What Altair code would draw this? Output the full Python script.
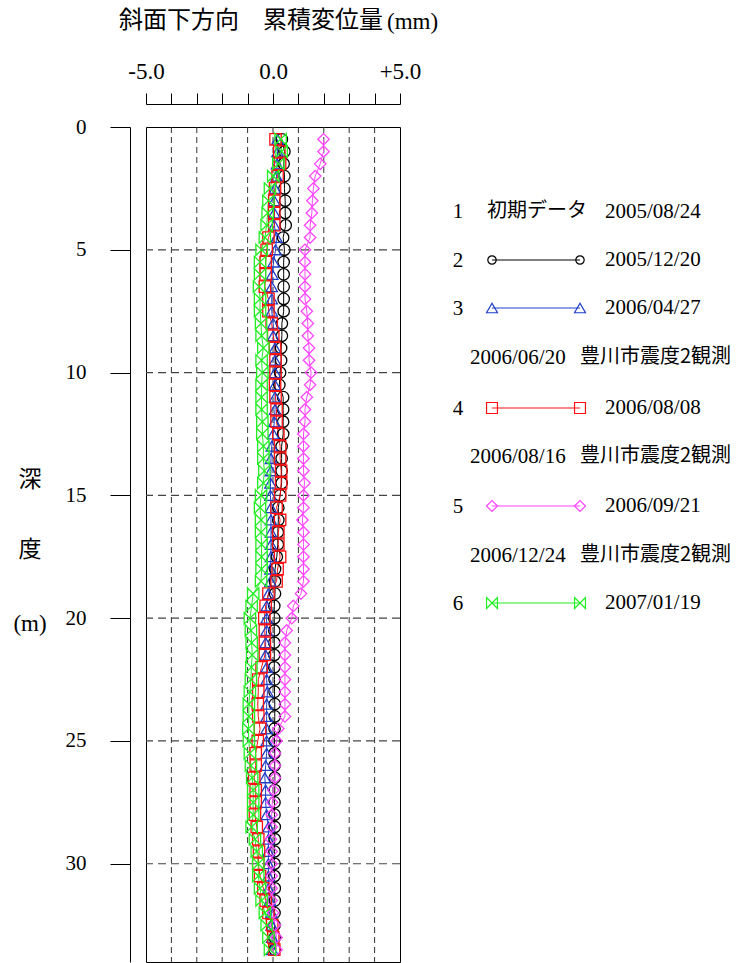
import altair as alt
import pandas as pd

# ---------------- data ----------------
depth_m = [0.5, 1.0, 1.5, 2.0, 2.5, 3.0, 3.5, 4.0, 4.5, 5.0,
           5.5, 6.0, 6.5, 7.0, 7.5, 8.0, 8.5, 9.0, 9.5, 10.0,
           10.5, 11.0, 11.5, 12.0, 12.5, 13.0, 13.5, 14.0, 14.5, 15.0,
           15.5, 16.0, 16.5, 17.0, 17.5, 18.0, 18.5, 19.0, 19.5, 20.0,
           20.5, 21.0, 21.5, 22.0, 22.5, 23.0, 23.5, 24.0, 24.5, 25.0,
           25.5, 26.0, 26.5, 27.0, 27.5, 28.0, 28.5, 29.0, 29.5, 30.0,
           30.5, 31.0, 31.5, 32.0, 32.5, 33.0, 33.5]

disp_2 = [0.35, 0.45, 0.42, 0.45, 0.45, 0.48, 0.48, 0.50, 0.40, 0.45,
          0.42, 0.42, 0.42, 0.42, 0.42, 0.35, 0.35, 0.32, 0.32, 0.28,
          0.25, 0.40, 0.40, 0.40, 0.40, 0.34, 0.34, 0.34, 0.34, 0.28,
          0.21, 0.21, 0.19, 0.19, 0.15, 0.08, 0.08, 0.08, 0.05, 0.05,
          0.05, 0.05, 0.05, 0.05, 0.06, 0.06, 0.07, 0.07, 0.06, 0.06,
          0.06, 0.06, 0.07, 0.07, 0.06, 0.06, 0.07, 0.07, 0.06, 0.06,
          0.06, 0.07, 0.07, 0.06, 0.06, 0.07, 0.07]

disp_3 = [0.18, 0.18, 0.16, 0.14, 0.08, 0.05, 0.05, 0.05, 0.14, 0.10,
          0.02, -0.03, -0.05, -0.05, -0.05, 0.01, 0.01, 0.08, 0.08, 0.08,
          0.08, 0.08, 0.08, 0.05, 0.01, -0.05, -0.08, -0.08, -0.10, -0.10,
          -0.08, -0.08, -0.08, -0.08, -0.08, -0.10, -0.10, -0.18, -0.25, -0.25,
          -0.25, -0.29, -0.29, -0.25, -0.25, -0.22, -0.25, -0.25, -0.25, -0.25,
          -0.25, -0.29, -0.32, -0.29, -0.29, -0.25, -0.18, -0.18, -0.18, -0.18,
          -0.18, -0.18, -0.12, -0.05, -0.05, -0.03, -0.03]

disp_4 = [0.10, 0.25, 0.28, 0.18, 0.08, 0.05, 0.05, 0.05, -0.18, -0.25,
          -0.29, -0.29, -0.32, -0.18, -0.18, -0.05, 0.01, 0.08, 0.10, 0.10,
          0.08, 0.10, 0.14, 0.14, 0.21, 0.28, 0.28, 0.32, 0.32, 0.28,
          0.14, 0.28, 0.21, 0.21, 0.28, 0.18, 0.14, -0.18, -0.29, -0.34,
          -0.32, -0.32, -0.32, -0.45, -0.58, -0.58, -0.60, -0.58, -0.51, -0.60,
          -0.68, -0.68, -0.74, -0.68, -0.68, -0.71, -0.64, -0.58, -0.55, -0.58,
          -0.51, -0.38, -0.29, -0.18, -0.03, 0.01, 0.05]

disp_5 = [1.99, 1.99, 1.86, 1.66, 1.59, 1.55, 1.53, 1.46, 1.46, 1.26,
          1.26, 1.26, 1.26, 1.26, 1.33, 1.37, 1.37, 1.42, 1.42, 1.50,
          1.46, 1.33, 1.26, 1.26, 1.20, 1.20, 1.20, 1.20, 1.24, 1.20,
          1.20, 1.16, 1.20, 1.20, 1.20, 1.20, 1.20, 1.10, 0.80, 0.74,
          0.54, 0.47, 0.47, 0.47, 0.47, 0.47, 0.47, 0.47, 0.21, 0.14,
          0.08, 0.08, 0.08, 0.01, -0.03, -0.05, -0.05, -0.08, -0.05, -0.05,
          -0.05, -0.05, -0.05, 0.01, 0.08, 0.14, 0.14]

disp_6 = [0.30, 0.34, 0.21, 0.01, -0.12, -0.18, -0.21, -0.25, -0.32, -0.45,
          -0.51, -0.51, -0.55, -0.51, -0.51, -0.47, -0.45, -0.38, -0.45, -0.42,
          -0.45, -0.45, -0.45, -0.42, -0.42, -0.38, -0.38, -0.34, -0.38, -0.47,
          -0.51, -0.47, -0.47, -0.45, -0.45, -0.45, -0.47, -0.78, -0.84, -0.91,
          -0.87, -0.84, -0.82, -0.85, -0.87, -0.91, -0.95, -0.95, -0.97, -0.95,
          -0.91, -0.87, -0.82, -0.78, -0.78, -0.78, -0.84, -0.71, -0.64, -0.58,
          -0.58, -0.51, -0.45, -0.32, -0.25, -0.18, -0.12]

series_names = ["2005/12/20", "2006/04/27", "2006/08/08", "2006/09/21", "2007/01/19"]
series_nums = ["2", "3", "4", "5", "6"]
initial_label = ["1", "初期データ", "2005/08/24"]
event_dates = ["2006/06/20", "2006/08/16", "2006/12/24"]
event_text = "豊川市震度2観測"

x_ticks = [-5, -4, -3, -2, -1, 0, 1, 2, 3, 4, 5]
x_grid = [-4, -3, -2, -1, 0, 1, 2, 3, 4]
y_ticks = [0, 5, 10, 15, 20, 25, 30]
y_grid = [5, 10, 15, 20, 25, 30]

title_jp = "斜面下方向　累積変位量"
title_unit = "(mm)"
ytitle_parts = ["深", "度", "(m)"]

# ---------------- styles ----------------
colors = ["#000000", "#1f3fc8", "#ff1010", "#ff44ff", "#22ee22"]
bowtie = "M-1,-1L1,1L1,-1L-1,1Z"
shapes = ["circle", "triangle-up", "square", "diamond", bowtie]
SERIF = "Liberation Serif"
CJK = "Noto Sans CJK JP"

rows = []
for name, vals in zip(series_names, [disp_2, disp_3, disp_4, disp_5, disp_6]):
    for d, v in zip(depth_m, vals):
        rows.append({"series": name, "depth": d, "disp": v})
df = pd.DataFrame(rows)

xscale = alt.Scale(domain=[-5, 5], nice=False, zero=False)
yscale = alt.Scale(domain=[0, 34], nice=False, zero=False, reverse=True)
cscale = alt.Scale(domain=series_names, range=colors)
sscale = alt.Scale(domain=series_names, range=shapes)

x_axis = alt.Axis(orient="top", offset=23, values=x_ticks, tickSize=11,
                  labelExpr="datum.value == -5 ? '-5.0' : datum.value == 0 ? '0.0' : datum.value == 5 ? '+5.0' : ''",
                  labelFont=SERIF, labelFontSize=23, labelColor="black",
                  labelPadding=10, labelOverlap=False, labelFlush=False, labelAngle=0,
                  tickColor="black", domainColor="black", title=None, grid=False)
y_axis = alt.Axis(orient="left", offset=16, values=y_ticks, tickSize=20,
                  labelFont=SERIF, labelFontSize=21, labelColor="black",
                  labelPadding=24, labelOverlap=False, labelFlush=False,
                  tickColor="black", domainColor="black", title=None, grid=False)

X = alt.X("disp:Q", scale=xscale, axis=x_axis)
Y = alt.Y("depth:Q", scale=yscale, axis=y_axis)

grid_v = alt.Chart(pd.DataFrame({"disp": x_grid})).mark_rule(
    color="#333333", strokeWidth=1, strokeDash=[6, 4]).encode(x=X)
grid_h = alt.Chart(pd.DataFrame({"depth": y_grid})).mark_rule(
    color="#444444", strokeWidth=1.2, strokeDash=[8, 5]).encode(y=Y)

lines = alt.Chart(df).mark_line(strokeWidth=1).encode(
    x=X, y=Y,
    color=alt.Color("series:N", scale=cscale, legend=None),
    order=alt.Order("depth:Q"))
points = alt.Chart(df).mark_point(filled=False, strokeWidth=1.3, size=130, opacity=1).encode(
    x=X, y=Y,
    color=alt.Color("series:N", scale=cscale, legend=None),
    shape=alt.Shape("series:N", scale=sscale, legend=None))

one = pd.DataFrame({"k": [0]})


def txt(s, x, y, font=SERIF, size=21, align="left", weight="normal"):
    return alt.Chart(one).mark_text(text=s, font=font, fontSize=size, align=align,
                                    baseline="middle", color="black",
                                    fontWeight=weight).encode(
        x=alt.value(x), y=alt.value(y))


ann = []
# title
ann.append(txt(title_jp, 237, -106, font=CJK, size=24, align="right"))
ann.append(txt(title_unit, 241, -105, font=SERIF, size=23, align="left"))
# y title
ann.append(txt(ytitle_parts[0], -116, 353, font=CJK, size=23, align="center"))
ann.append(txt(ytitle_parts[1], -116, 423, font=CJK, size=23, align="center"))
ann.append(txt(ytitle_parts[2], -116, 497, font=SERIF, size=23, align="center"))

# legend
ann.append(txt(initial_label[0], 312, 85, align="center"))
ann.append(txt(initial_label[1], 341, 84, font=CJK, size=20))
ann.append(txt(initial_label[2], 459, 85))

sym_rows = [133, 181, 281, 379, 476]
for i, (num, name) in enumerate(zip(series_nums, series_names)):
    yy = sym_rows[i]
    ann.append(txt(num, 312, yy + 1, align="center"))
    ann.append(alt.Chart(one).mark_rule(color=colors[i], strokeWidth=1).encode(
        x=alt.value(346), x2=alt.value(434), y=alt.value(yy)))
    for xx in (346, 434):
        ann.append(alt.Chart(one).mark_point(
            shape=shapes[i], filled=False, color=colors[i], strokeWidth=1.2,
            size=70 if i == 0 else 120, opacity=1).encode(
            x=alt.value(xx), y=alt.value(yy)))
    ann.append(txt(name, 459, yy))

event_rows = [231, 330, 429]
for d, yy in zip(event_dates, event_rows):
    ann.append(txt(d, 324, yy))
    ann.append(txt(event_text, 434, yy - 1, font=CJK, size=20))

chart = alt.layer(grid_v, grid_h, lines, points, *ann).properties(
    width=254, height=835,
    padding={"left": 146, "top": 127, "right": 348, "bottom": 1},
    autosize=alt.AutoSizeParams(type="none"),
    background="white",
).configure_view(stroke="black", strokeWidth=1)

chart.save("out.html", embed_options={"renderer": "svg", "actions": False})
